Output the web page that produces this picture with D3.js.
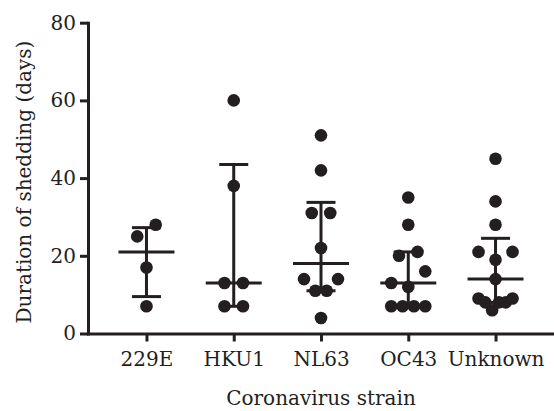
<!DOCTYPE html>
<html>
<head>
<meta charset="utf-8">
<script src="https://cdn.jsdelivr.net/npm/d3@7"></script>
<style>
  body { margin: 0; background: #fff; }
</style>
</head>
<body>
<div id="chart"></div>
<script>
/* Duration of shedding by coronavirus strain: dots + median with IQR */

const strains = ["229E", "HKU1", "NL63", "OC43", "Unknown"];
const days229E = [28, 25, 17, 7];
const daysHKU1 = [60, 38, 13, 13, 7, 7];
const daysNL63 = [51, 42, 31, 31, 22, 14, 14, 11, 11, 4];
const daysOC43 = [35, 28, 21, 20, 16, 13, 12, 7, 7, 7, 7];
const daysUnknown = [45, 34, 28, 21, 21, 19, 14, 9, 9, 8, 8, 8, 6];
const yTicks = [0, 20, 40, 60, 80];

const groups = [days229E, daysHKU1, daysNL63, daysOC43, daysUnknown];

const width = 554,
      height = 411,
      margin = ({ top: 22.7, right: 0, bottom: 77.5, left: 88 });

const ink = "#231f20";
const serif = "'DejaVu Serif', 'Liberation Serif', serif";

let svg = d3.select("#chart")
    .append("svg")
    .attr("width", width)
    .attr("height", height)
    .style("font-family", serif);

let x = d3.scalePoint()
    .domain(strains)
    .range([margin.left, width - margin.right])
    .padding(0.67);

let y = d3.scaleLinear()
    .domain([0, 80])
    .range([height - margin.bottom, margin.top]);

// percentile the way Prism does it: position p*(n+1)
function pct(values, p) {
    const s = values.slice().sort((a, b) => a - b);
    const n = s.length;
    const pos = p * (n + 1);
    const k = Math.floor(pos), f = pos - k;
    if (k < 1) return s[0];
    if (k >= n) return s[n - 1];
    return s[k - 1] + f * (s[k] - s[k - 1]);
}

// simple row-based scatter layout: close values share a row, spread sideways
function swarm(values) {
    const sorted = values.slice().sort((a, b) => a - b);
    const rows = [];
    sorted.forEach((v, i) => {
        if (i > 0 && y(sorted[i - 1]) - y(v) < 13) rows[rows.length - 1].push(v);
        else rows.push([v]);
    });
    const out = [];
    rows.forEach(row => {
        const n = row.length;
        let s = n <= 3 ? 18.5 : 14.5;
        if (n > 1) s = Math.min(s, 34 / (n - 1));
        const slots = d3.range(n).map(i => (i - (n - 1) / 2) * s)
            .sort((a, b) => Math.abs(a) - Math.abs(b) || a - b);
        row.forEach((v, i) => out.push({ v: v, dx: slots[i] }));
    });
    return out;
}

// y axis
let yAxis = svg.append("g")
    .attr("transform", `translate(${margin.left},0)`)
    .call(d3.axisLeft(y).tickValues(yTicks).tickSize(8).tickSizeOuter(0).tickPadding(4));

// x axis
let xAxis = svg.append("g")
    .attr("transform", `translate(0,${y(0)})`)
    .call(d3.axisBottom(x).tickSize(8).tickSizeOuter(0));

xAxis.selectAll("text")
    .attr("y", 32.5)
    .attr("dy", 0);

[xAxis, yAxis].forEach(g => {
    g.attr("font-family", null).attr("font-size", null);
    g.select(".domain").attr("stroke", ink).attr("stroke-width", 3).attr("stroke-linecap", "square");
    g.selectAll(".tick line").attr("stroke", ink).attr("stroke-width", 3);
    g.selectAll("text")
        .style("font-family", serif)
        .style("font-size", "20px")
        .attr("fill", ink);
});

// median + interquartile range
let bars = svg.append("g")
    .attr("stroke", ink)
    .attr("stroke-width", 3)
    .selectAll("g")
    .data(strains.map((s, i) => ({
        strain: s,
        q1: pct(groups[i], 0.25),
        med: pct(groups[i], 0.5),
        q3: pct(groups[i], 0.75)
    })))
    .join("g");

bars.append("line")
    .attr("x1", d => x(d.strain)).attr("x2", d => x(d.strain))
    .attr("y1", d => y(d.q1)).attr("y2", d => y(d.q3));

bars.append("line")
    .attr("x1", d => x(d.strain) - 14.5).attr("x2", d => x(d.strain) + 14.5)
    .attr("y1", d => y(d.q1)).attr("y2", d => y(d.q1));

bars.append("line")
    .attr("x1", d => x(d.strain) - 14.5).attr("x2", d => x(d.strain) + 14.5)
    .attr("y1", d => y(d.q3)).attr("y2", d => y(d.q3));

bars.append("line")
    .attr("x1", d => x(d.strain) - 28).attr("x2", d => x(d.strain) + 28)
    .attr("y1", d => y(d.med)).attr("y2", d => y(d.med));

// dots
let points = [];
strains.forEach((s, i) => {
    swarm(groups[i]).forEach(p => points.push({ strain: s, v: p.v, dx: p.dx }));
});

svg.append("g")
    .selectAll("circle")
    .data(points)
    .join("circle")
    .attr("cx", d => x(d.strain) + d.dx)
    .attr("cy", d => y(d.v))
    .attr("r", 6.3)
    .attr("fill", ink);

// axis titles
svg.append("text")
    .attr("transform", `translate(31,${(y(0) + y(80)) / 2 + 4}) rotate(-90)`)
    .attr("text-anchor", "middle")
    .attr("fill", ink)
    .style("font-family", serif)
    .style("font-size", "20px")
    .text("Duration of shedding (days)");

svg.append("text")
    .attr("x", (margin.left + width) / 2)
    .attr("y", 405)
    .attr("text-anchor", "middle")
    .attr("fill", ink)
    .style("font-family", serif)
    .style("font-size", "20px")
    .text("Coronavirus strain");
</script>
</body>
</html>
